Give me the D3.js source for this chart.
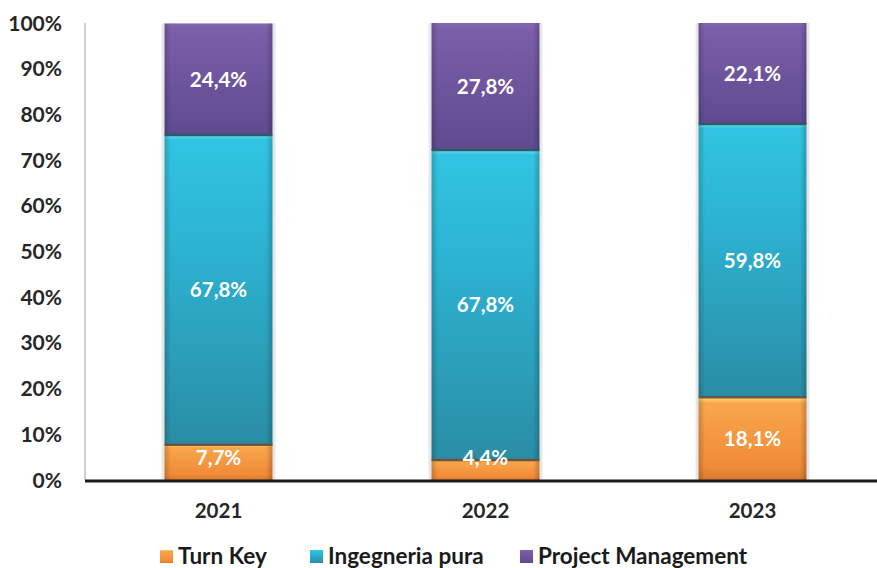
<!DOCTYPE html>
<meta charset="utf-8">
<script src="https://d3js.org/d3.v7.min.js"></script>
<style>
  body { margin: 0; background: #fff; }
  text { font-family: Lato, "Open Sans", sans-serif; font-weight: 700; }
</style>
<div id="my_dataviz"></div>
<script>

// data
var years = ["2021", "2022", "2023"];
var series = ["Turn Key", "Ingegneria pura", "Project Management"];
var turnKey = [7.7, 4.4, 18.1];
var ingegneria = [67.8, 67.8, 59.8];
var projectMgmt = [24.4, 27.8, 22.1];
var yTicks = [0, 10, 20, 30, 40, 50, 60, 70, 80, 90, 100];

var width = 877, height = 568;
var margin = {top: 23, left: 85, bottom: 88, right: -9};

var svg = d3.select("#my_dataviz")
  .append("svg")
    .attr("width", width)
    .attr("height", height);

var x = d3.scaleBand()
  .domain(years)
  .range([margin.left, width - margin.right])
  .paddingInner(0.596)
  .paddingOuter(0.298);

var y = d3.scaleLinear()
  .domain([0, 100])
  .range([height - margin.bottom, margin.top]);

// gradients, one per series
var defs = svg.append("defs");
var grads = [
  {id: "g0", stops: [[0, "#FFE27A"], [0.07, "#F8A64C"], [0.85, "#F08A36"], [1, "#D5782E"]], line: "#6B5540"},
  {id: "g1", stops: [[0, "#7ADBF0"], [0.015, "#31C4E2"], [0.35, "#2CB3D2"], [1, "#2A8DA5"]], line: "#2B5A68"},
  {id: "g2", stops: [[0, "#8468B0"], [0.05, "#7B5FA9"], [1, "#5F4A90"]], line: "#453B6A"}
];
grads.forEach(function(g) {
  var lg = defs.append("linearGradient")
    .attr("id", g.id)
    .attr("x1", 0).attr("y1", 0).attr("x2", 0).attr("y2", 1);
  g.stops.forEach(function(s) {
    lg.append("stop").attr("offset", s[0]).attr("stop-color", s[1]);
  });
});
var side = defs.append("linearGradient").attr("id", "side")
  .attr("x1", 0).attr("y1", 0).attr("x2", 1).attr("y2", 0);
[[0, "#000", 0.18], [0.06, "#000", 0], [0.94, "#000", 0], [1, "#000", 0.2]].forEach(function(s) {
  side.append("stop").attr("offset", s[0]).attr("stop-color", s[1]).attr("stop-opacity", s[2]);
});

// y axis
svg.append("line")
  .attr("x1", margin.left).attr("x2", margin.left)
  .attr("y1", y(100)).attr("y2", y(0))
  .attr("stroke", "#BFBFBF").attr("stroke-width", 1.5);

svg.append("g")
  .selectAll("text")
  .data(yTicks)
  .enter()
  .append("text")
    .attr("x", 62)
    .attr("y", function(d) { return y(d); })
    .attr("dy", "0.36em")
    .attr("text-anchor", "end")
    .attr("font-size", 21)
    .attr("fill", "#262626")
    .text(function(d) { return d + "%"; });

// stacked bars
var table = years.map(function(yr, i) {
  return {year: yr, "Turn Key": turnKey[i], "Ingegneria pura": ingegneria[i], "Project Management": projectMgmt[i]};
});
var stacked = d3.stack().keys(series)(table);

var bw = x.bandwidth();
stacked.forEach(function(layer, si) {
  var g = svg.append("g");
  // side shadow
  g.selectAll("rect.sh")
    .data(layer)
    .enter()
    .append("rect")
      .attr("x", function(d) { return x(d.data.year) - 3; })
      .attr("y", function(d) { return y(d[1]); })
      .attr("width", bw + 6)
      .attr("height", function(d) { return y(d[0]) - y(d[1]); })
      .attr("fill", "#E6E6E6");
  g.selectAll("rect.b")
    .data(layer)
    .enter()
    .append("rect")
      .attr("x", function(d) { return x(d.data.year); })
      .attr("y", function(d) { return y(d[1]); })
      .attr("width", bw)
      .attr("height", function(d) { return y(d[0]) - y(d[1]); })
      .attr("fill", "url(#" + grads[si].id + ")");
  g.selectAll("rect.s")
    .data(layer)
    .enter()
    .append("rect")
      .attr("x", function(d) { return x(d.data.year); })
      .attr("y", function(d) { return y(d[1]); })
      .attr("width", bw)
      .attr("height", function(d) { return y(d[0]) - y(d[1]); })
      .attr("fill", "url(#side)");
  // dark edge at the bottom of each segment (except the first)
  if (si > 0) {
    g.selectAll("line")
      .data(layer)
      .enter()
      .append("line")
        .attr("x1", function(d) { return x(d.data.year); })
        .attr("x2", function(d) { return x(d.data.year) + bw; })
        .attr("y1", function(d) { return y(d[0]); })
        .attr("y2", function(d) { return y(d[0]); })
        .attr("stroke", grads[si - 1].line)
        .attr("stroke-width", 2.5);
  }
});

// value labels
stacked.forEach(function(layer) {
  svg.append("g")
    .selectAll("text")
    .data(layer)
    .enter()
    .append("text")
      .attr("x", function(d) { return x(d.data.year) + bw / 2; })
      .attr("y", function(d) { return Math.min((y(d[0]) + y(d[1])) / 2, y(0) - 22); })
      .attr("dy", "0.36em")
      .attr("text-anchor", "middle")
      .attr("font-size", 20.5)
      .attr("fill", "#fff")
      .text(function(d) { return (d[1] - d[0]).toFixed(1).replace(".", ",") + "%"; });
});

// x axis
svg.append("line")
  .attr("x1", margin.left).attr("x2", width)
  .attr("y1", y(0) + 1).attr("y2", y(0) + 1)
  .attr("stroke", "#1a1a1a").attr("stroke-width", 3);

svg.append("g")
  .selectAll("text")
  .data(years)
  .enter()
  .append("text")
    .attr("x", function(d) { return x(d) + bw / 2; })
    .attr("y", 511)
    .attr("dy", "0.36em")
    .attr("text-anchor", "middle")
    .attr("font-size", 20.5)
    .attr("fill", "#262626")
    .text(function(d) { return d; });

// legend
var legendX = [160, 310, 520];
var legend = svg.append("g");
series.forEach(function(s, i) {
  legend.append("rect")
    .attr("x", legendX[i]).attr("y", 550)
    .attr("width", 13).attr("height", 13)
    .attr("fill", "url(#" + grads[i].id + ")");
  legend.append("text")
    .attr("x", legendX[i] + 18)
    .attr("y", 556)
    .attr("dy", "0.36em")
    .attr("font-size", 22.5)
    .attr("fill", "#1a1a1a")
    .text(s);
});

</script>
